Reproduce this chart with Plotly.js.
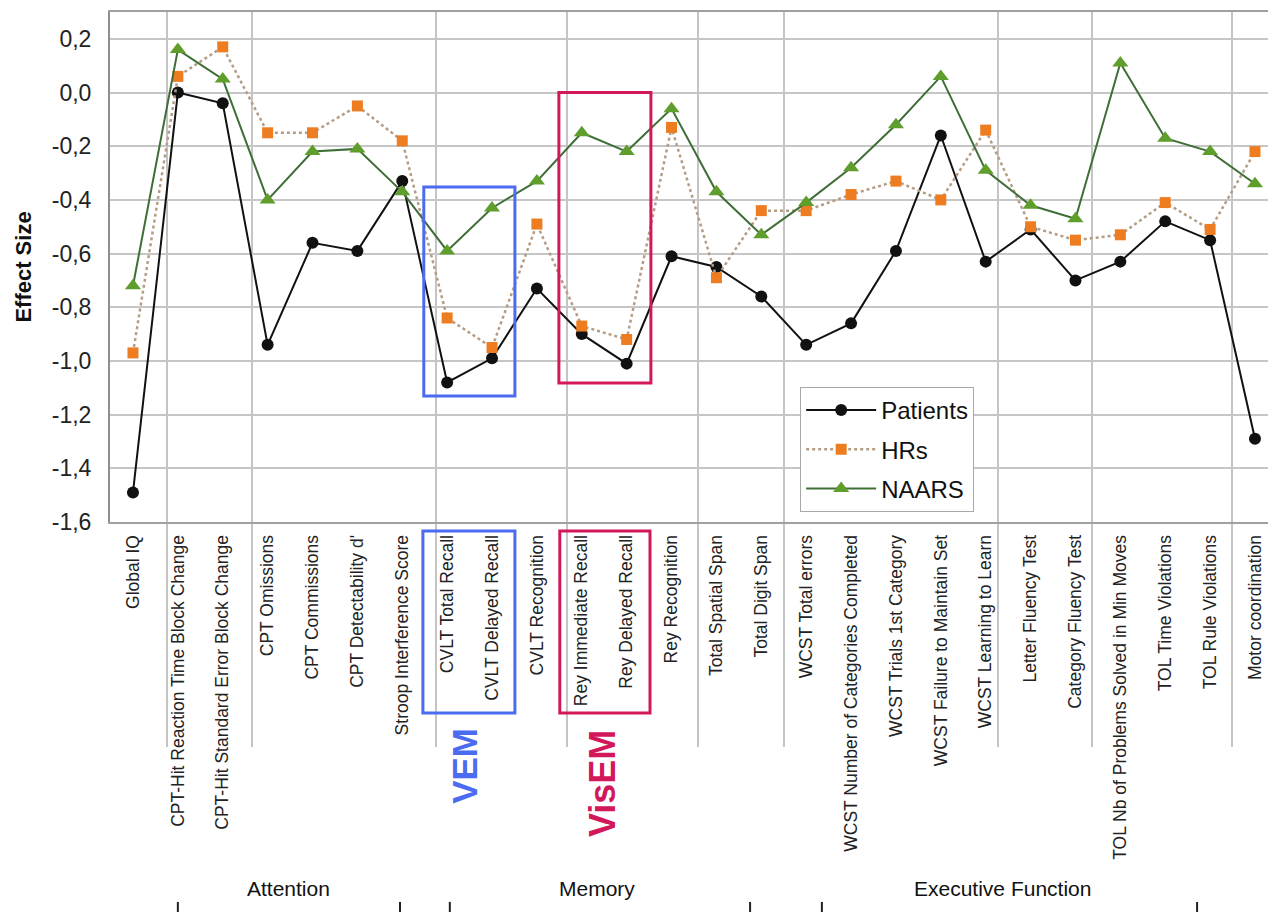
<!DOCTYPE html>
<html>
<head>
<meta charset="utf-8">
<script src="https://cdn.plot.ly/plotly-3.0.1.min.js"></script>
<style>html,body{margin:0;padding:0;background:#fff;}#chart{width:1268px;height:912px;}</style>
</head>
<body>
<div id="chart"></div>
<script>
// ---- data ----
const categories = [
  "Global IQ",
  "CPT-Hit Reaction Time Block Change",
  "CPT-Hit Standard Error Block Change",
  "CPT Omissions",
  "CPT Commissions",
  "CPT Detectability d'",
  "Stroop Interference Score",
  "CVLT Total Recall",
  "CVLT Delayed Recall",
  "CVLT Recognition",
  "Rey Immediate Recall",
  "Rey Delayed Recall",
  "Rey Recognition",
  "Total Spatial Span",
  "Total Digit Span",
  "WCST Total errors",
  "WCST Number of Categories Completed",
  "WCST Trials 1st Category",
  "WCST Failure to Maintain Set",
  "WCST Learning to Learn",
  "Letter Fluency Test",
  "Category Fluency Test",
  "TOL Nb of Problems Solved in Min Moves",
  "TOL Time Violations",
  "TOL Rule Violations",
  "Motor coordination"
];
const patients = [-1.49, 0.00, -0.04, -0.94, -0.56, -0.59, -0.33, -1.08, -0.99, -0.73, -0.90, -1.01, -0.61, -0.65, -0.76, -0.94, -0.86, -0.59, -0.16, -0.63, -0.51, -0.70, -0.63, -0.48, -0.55, -1.29];
const hrs      = [-0.97, 0.06, 0.17, -0.15, -0.15, -0.05, -0.18, -0.84, -0.95, -0.49, -0.87, -0.92, -0.13, -0.69, -0.44, -0.44, -0.38, -0.33, -0.40, -0.14, -0.50, -0.55, -0.53, -0.41, -0.51, -0.22];
const naars    = [-0.72, 0.16, 0.05, -0.40, -0.22, -0.21, -0.37, -0.59, -0.43, -0.33, -0.15, -0.22, -0.06, -0.37, -0.53, -0.41, -0.28, -0.12, 0.06, -0.29, -0.42, -0.47, 0.11, -0.17, -0.22, -0.34];
const seriesNames = ["Patients", "HRs", "NAARS"];
const yTickVals = [-1.6, -1.4, -1.2, -1.0, -0.8, -0.6, -0.4, -0.2, 0.0, 0.2];
const yTickText = ["-1,6", "-1,4", "-1,2", "-1,0", "-0,8", "-0,6", "-0,4", "-0,2", "0,0", "0,2"];
const groupNames = ["Attention", "Memory", "Executive Function"];
const boxLabels = ["VEM", "VisEM"];

// ---- layout helpers (category units / paper units) ----
const separators = [0.758, 2.651, 6.751, 9.670, 12.589, 14.505, 19.273, 21.368, 24.488];
const groupCenters = [3.476, 10.34, 19.38];
const groupTicks = [1.0, 5.95, 7.06, 13.75, 15.35, 23.71];
const FONT = "Arial, 'Liberation Sans', Helvetica, sans-serif";
const BLUE = "#4b6cf0", PINK = "#d3175b";

const traces = [
  {x: categories, y: patients, name: seriesNames[0], type: "scatter", mode: "lines+markers",
   legendgroup: "a",
   line: {color: "#111111", width: 2},
   marker: {symbol: "circle", size: 12, color: "#111111"}},
  {x: categories, y: hrs, name: seriesNames[1], type: "scatter", mode: "lines+markers",
   legendgroup: "b",
   line: {color: "#b59c84", width: 2.5, dash: "dot"},
   marker: {symbol: "square", size: 11, color: "#ee7d22"}},
  {x: categories, y: naars, name: seriesNames[2], type: "scatter", mode: "lines+markers",
   legendgroup: "c",
   line: {color: "#3f6e37", width: 2},
   marker: {symbol: "triangle-up", size: 14, color: "#5f9e2c"}}
];

const shapes = [];
separators.forEach(s => shapes.push({type: "line", xref: "x", yref: "paper", x0: s, x1: s, y0: -0.441, y1: 1,
  line: {color: "#c4c4c4", width: 2}, layer: "below"}));
// in-plot highlight boxes
shapes.push({type: "rect", xref: "x", yref: "y", x0: 6.48, x1: 8.51, y0: -1.131, y1: -0.352, line: {color: BLUE, width: 3}});
shapes.push({type: "rect", xref: "x", yref: "y", x0: 9.49, x1: 11.54, y0: -1.082, y1: 0.0, line: {color: PINK, width: 3}});
// label-area boxes
shapes.push({type: "rect", xref: "x", yref: "paper", x0: 6.46, x1: 8.51, y0: -0.3745, y1: -0.0176, line: {color: BLUE, width: 3}});
shapes.push({type: "rect", xref: "x", yref: "paper", x0: 9.51, x1: 11.52, y0: -0.3745, y1: -0.0176, line: {color: PINK, width: 3}});
// group brackets ticks
groupTicks.forEach(t => shapes.push({type: "line", xref: "x", yref: "paper", x0: t, x1: t, y0: -0.765, y1: -0.745,
  line: {color: "#222", width: 2}}));

const annotations = [];
groupNames.forEach((g, i) => annotations.push({text: g, xref: "x", yref: "paper", x: groupCenters[i], y: -0.7196,
  showarrow: false, font: {family: FONT, size: 21, color: "#111"}, xanchor: "center", yanchor: "middle"}));
annotations.push({text: "<b>" + boxLabels[0] + "</b>", xref: "x", yref: "paper", x: 7.4, y: -0.478, textangle: -90,
  showarrow: false, font: {family: FONT, size: 35, color: BLUE}, xanchor: "center", yanchor: "middle"});
annotations.push({text: "<b>" + boxLabels[1] + "</b>", xref: "x", yref: "paper", x: 10.45, y: -0.512, textangle: -90,
  showarrow: false, font: {family: FONT, size: 36, color: PINK}, xanchor: "center", yanchor: "middle"});

const layout = {
  width: 1268, height: 912,
  margin: {l: 110, r: 0, t: 12, b: 390, pad: 0},
  paper_bgcolor: "#ffffff", plot_bgcolor: "#ffffff",
  font: {family: FONT, color: "#222"},
  showlegend: true,
  legend: {x: 0.596, y: 0.2647, xanchor: "left", yanchor: "top",
    bgcolor: "#ffffff", bordercolor: "#a8a8a8", borderwidth: 1,
    font: {family: FONT, size: 24, color: "#111"}, tracegroupgap: 5, itemwidth: 70},
  xaxis: {type: "category", range: [-0.512, 25.29], tickangle: -90, automargin: false,
    tickfont: {family: FONT, size: 17.5, color: "#222"}, ticks: "", ticklabelstandoff: 4, showgrid: false,
    showline: true, mirror: true, linecolor: "#a0a0a0", linewidth: 2, zeroline: false, fixedrange: true},
  yaxis: {range: [-1.6, 0.3], tickvals: yTickVals, ticktext: yTickText, automargin: false,
    tickfont: {family: FONT, size: 23, color: "#222"}, ticks: "", ticklabelstandoff: 12,
    showgrid: true, gridcolor: "#c6c6c6", gridwidth: 2, zeroline: false,
    showline: true, linecolor: "#8e8e8e", linewidth: 2, fixedrange: true,
    title: {text: "<b>Effect Size</b>", font: {family: FONT, size: 22, color: "#111"}, standoff: 14}},
  shapes: shapes,
  annotations: annotations
};

Plotly.newPlot("chart", traces, layout, {displayModeBar: false, staticPlot: true});
</script>
</body>
</html>
